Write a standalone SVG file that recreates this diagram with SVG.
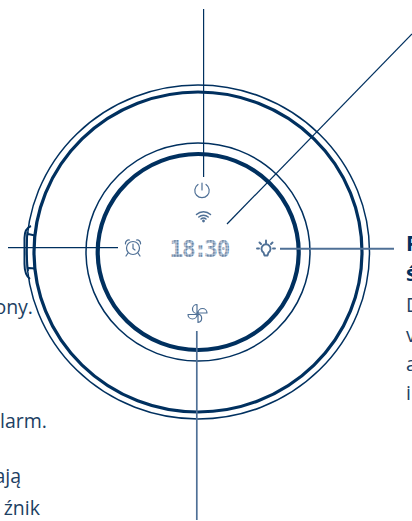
<svg xmlns="http://www.w3.org/2000/svg" width="412" height="521" viewBox="0 0 412 521">
<defs>
<style>
.r{fill:none;stroke:#00305f}
.ln{fill:none;stroke:#00305f;stroke-width:1.2}
.lb{fill:none;stroke:#4f7096;stroke-width:2}
.ic{fill:none;stroke:#4f7096;stroke-width:1.2;stroke-linecap:round;stroke-linejoin:round}
.t{font-family:"Open Sans","Noto Sans",sans-serif;font-size:19.5px;fill:#1d3f63}
.b{font-weight:700;fill:#00305f;font-size:21px}
</style>
<pattern id="dots" width="1.5" height="1.5" patternUnits="userSpaceOnUse"><rect width="1.15" height="1.15" fill="#4f7096"/></pattern>
</defs>
<rect width="412" height="521" fill="#fff"/>
<g id="body">
<ellipse class="r" cx="198" cy="252" rx="171.500" ry="167" stroke-width="1.500"/>
<ellipse class="r" cx="198" cy="252" rx="164" ry="160" stroke-width="3.200"/>
<ellipse class="r" cx="198" cy="252" rx="112" ry="109" stroke-width="1.500"/>
<ellipse class="r" cx="198.200" cy="252" rx="100.500" ry="98" stroke-width="4.200"/>
<path class="r" stroke-width="2" d="M31 226 C26 228 24.500 232 24.500 238 L24.500 264 C24.500 271 26 276 30 279"/>
<path class="r" stroke-width="2" d="M27.500 232 C26.500 240 26.500 262 28 271 M28 234 L35 235.500 M28.500 268 L35 268.500"/>
</g>
<g id="connectors">
<path class="ln" d="M203.600 9V177"/>
<path class="ln" d="M412 34L227 224"/>
<path class="ln" d="M8 247.700H118"/>
<path class="lb" d="M280 248.800H394"/>
<path class="lb" d="M196.800 331V520" style="stroke-width:1.700"/>
</g>
<g id="power"><path class="ic" d="M198 184.500a7.200 7.200 0 1 0 8 0M202 183V190"/></g>
<g id="wifi"><path class="ic" style="stroke-width:1.500" d="M196.500 214.500a10 10 0 0 1 14 0M198.800 217a7 7 0 0 1 9.400 0M201 219a3.500 3.500 0 0 1 5 0"/><circle cx="203.500" cy="221" r="1.400" fill="#4f7096"/></g>
<g id="alarm"><circle class="ic" cx="133" cy="248" r="6.500"/><path class="ic" d="M133 244V248.500L135 250M125.500 244a3.500 3.500 0 0 1 4-4M140.500 244a3.500 3.500 0 0 0-4-4M128 253L126 256M138 253L140 256"/></g>
<text id="display" x="169.500 182 193.500 204 216.500" y="257" font-family="'DejaVu Sans Mono','Liberation Mono',monospace" font-weight="700" font-size="23" fill="url(#dots)">18:30</text>
<g id="bulb"><path class="ic" style="stroke-width:1.900" d="M263.500 252.500a4.500 4.500 0 1 1 5 0L267.500 255.500H264.500ZM266 240.500V243M259.500 242.500L261 244M272.500 242.500L271 244M257 248.500H259M273 248.500H275"/></g>
<g id="fan"><path class="ic" d="M198 313a4.500 4.500 0 0 1 9 0ZM188 314.500h9a4.500 4.500 0 0 1-9 0ZM197 304.500v9a4.500 4.500 0 0 1 0-9ZM198 314v8.500a4.300 4.300 0 0 0 0-8.500Z"/></g>
<g id="labels">
<text class="t b" x="406" y="251">P</text>
<text class="t b" x="406" y="281">ś</text>
<text class="t" x="406" y="312">D</text>
<text class="t" x="406" y="342">v</text>
<text class="t" x="406" y="371">a</text>
<text class="t" x="406" y="400">i</text>
<text class="t" x="33" y="314" text-anchor="end">ony.</text>
<text class="t" x="47" y="428" text-anchor="end">larm.</text>
<text class="t" x="21" y="483" text-anchor="end">ają</text>
<text class="t" x="40" y="515" text-anchor="end">źnik</text>
</g>
</svg>
